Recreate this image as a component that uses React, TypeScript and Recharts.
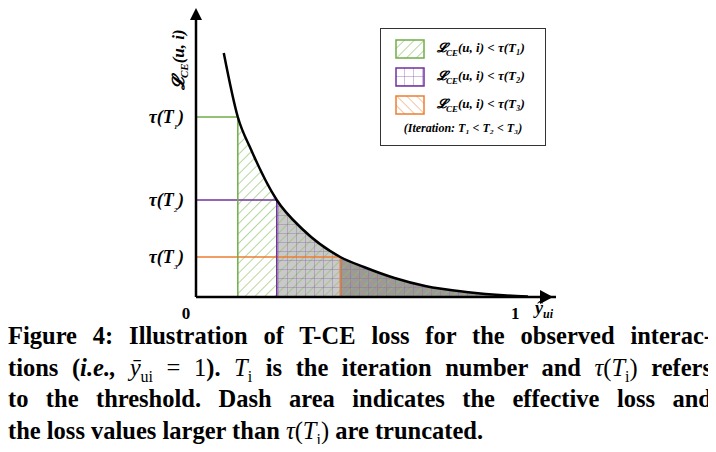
import React from "react";
import { ComposedChart, Line, Area, XAxis, YAxis, ReferenceLine } from "recharts";

const xs = [0.087, 0.131, 0.173, 0.253, 0.333, 0.452, 0.526, 0.622, 0.718, 0.846, 0.974, 1.04];
const loss = [244, 180, 147, 97, 68, 40, 30, 19, 11, 5, 1.5, 0.5];
const thresholdX = [0.131, 0.253, 0.452];
const thresholdY = [180, 97, 40];
const thresholdLabels = ["T₁", "T₂", "T₃"];
const thresholdColors = ["#70ad47", "#7030a0", "#ed7d31"];

const data = xs.map((x, i) => ({
  x,
  loss: loss[i],
  a1: x >= thresholdX[0] ? loss[i] : null,
  a2: x >= thresholdX[1] ? loss[i] : null,
  a3: x >= thresholdX[2] ? loss[i] : null,
}));

const serif = "'Liberation Serif', 'DejaVu Serif', serif";

const YTick = (p: any) => {
  const idx = thresholdY.indexOf(p.payload.value);
  return (
    <text x={p.x - 4} y={p.y + 6} textAnchor="end" fontFamily={serif} fontWeight="bold" fontStyle="italic" fontSize={18} fill="#000">
      τ({thresholdLabels[idx][0]}<tspan fontSize={12} dy={4}>{thresholdLabels[idx].slice(1)}</tspan><tspan dy={-4}>)</tspan>
    </text>
  );
};

const XTick = (p: any) => (
  <text x={p.x + (p.payload.value === 0 ? -10 : 0)} y={p.y + 14} textAnchor="middle" fontFamily={serif} fontWeight="bold" fontSize={17} fill="#000">
    {p.payload.value}
  </text>
);

const Sw = ({ id, stroke }: { id: string; stroke: string }) => (
  <svg width={30} height={20} style={{ verticalAlign: "middle" }}>
    <rect x={1} y={1} width={28} height={18} fill={`url(#${id})`} stroke={stroke} strokeWidth={1.5} />
  </svg>
);

const sub = (t: string) => <sub style={{ fontSize: 16 }}>{t}</sub>;
const N = ({ children }: { children: React.ReactNode }) => <span style={{ fontWeight: "normal" }}>{children}</span>;
const lineStyle: React.CSSProperties = { textAlign: "justify", textAlignLast: "justify", whiteSpace: "nowrap", height: 31.5 } as any;

export default function App() {
  return (
    <div style={{ position: "relative", width: 700, height: 436 }}>
      <svg width={0} height={0} style={{ position: "absolute" }}>
        <defs>
          <pattern id="hg" width="7" height="7" patternUnits="userSpaceOnUse" patternTransform="rotate(45)">
            <line x1="0" y1="0" x2="0" y2="7" stroke="#8cc26a" strokeWidth="1.3" />
          </pattern>
          <pattern id="hp" width="9" height="9" patternUnits="userSpaceOnUse">
            <path d="M0 0 H9 M0 0 V9" stroke="#8a5bb0" strokeWidth="0.8" fill="none" />
          </pattern>
          <pattern id="ho" width="7" height="7" patternUnits="userSpaceOnUse" patternTransform="rotate(-45)">
            <line x1="0" y1="0" x2="0" y2="7" stroke="#f0a070" strokeWidth="1.3" />
          </pattern>
        </defs>
      </svg>
      <ComposedChart width={700} height={320} data={data} margin={{ top: 7, right: 152, bottom: 1, left: 128 }}>
        <defs>
          <pattern id="cg" width="7" height="7" patternUnits="userSpaceOnUse" patternTransform="rotate(45)">
            <line x1="0" y1="0" x2="0" y2="7" stroke="#8cc26a" strokeWidth="1.3" />
          </pattern>
          <pattern id="cp" width="9" height="9" patternUnits="userSpaceOnUse">
            <path d="M0 0 H9 M0 0 V9" stroke="#8a6aa6" strokeWidth="0.8" fill="none" />
          </pattern>
          <pattern id="co" width="7" height="7" patternUnits="userSpaceOnUse" patternTransform="rotate(-45)">
            <line x1="0" y1="0" x2="0" y2="7" stroke="#c0906a" strokeWidth="1" />
          </pattern>
        </defs>
        <XAxis dataKey="x" type="number" domain={[0, 1.128]} ticks={[0, 1]} tick={<XTick />} tickLine={false} height={30}
          axisLine={{ stroke: "#000", strokeWidth: 2.5 }} />
        <YAxis type="number" domain={[0, 282]} ticks={thresholdY} tick={<YTick />} tickLine={false} width={60}
          axisLine={{ stroke: "#000", strokeWidth: 2.5 }} />
        <Area dataKey="a2" type="monotone" fill="#c9c9c9" fillOpacity={1} stroke="none" isAnimationActive={false} />
        <Area dataKey="a3" type="monotone" fill="#8f8f8f" fillOpacity={0.8} stroke="none" isAnimationActive={false} />
        <Area dataKey="a1" type="monotone" fill="url(#cg)" fillOpacity={1} stroke="none" isAnimationActive={false} />
        <Area dataKey="a2" type="monotone" fill="url(#cp)" fillOpacity={1} stroke="none" isAnimationActive={false} />
        <Area dataKey="a3" type="monotone" fill="url(#co)" fillOpacity={1} stroke="none" isAnimationActive={false} />
        {thresholdX.map((tx, i) => (
          <ReferenceLine key={"h" + i} segment={[{ x: 0, y: thresholdY[i] }, { x: tx, y: thresholdY[i] }]} stroke={thresholdColors[i]} strokeWidth={1.5} />
        ))}
        {thresholdX.map((tx, i) => (
          <ReferenceLine key={"v" + i} segment={[{ x: tx, y: 0 }, { x: tx, y: thresholdY[i] }]} stroke={thresholdColors[i]} strokeWidth={1.5} />
        ))}
        <Line dataKey="loss" type="monotone" stroke="#000" strokeWidth={2.5} dot={false} isAnimationActive={false} />
      </ComposedChart>
      <svg width={700} height={320} style={{ position: "absolute", left: 0, top: 0, pointerEvents: "none" }}>
        <path d="M182 12 L188 0 L194 12 Z" fill="#000" />
        <path d="M532 282 L545 289 L532 296 Z" fill="#000" />
        <text x={0} y={0} transform="translate(176,82) rotate(-90)" fontFamily={serif} fontWeight="bold" fontStyle="italic" fontSize={17}>
          𝓛<tspan fontSize={11} dy={4}>CE</tspan><tspan dy={-4}>(u, i)</tspan>
        </text>
        <text x={527} y={306} fontFamily={serif} fontWeight="bold" fontStyle="italic" fontSize={18}>
          ŷ<tspan fontSize={12} dy={4}>ui</tspan>
        </text>
      </svg>
      <div style={{ position: "absolute", left: 372, top: 20, width: 166, height: 118, border: "1.5px solid #333", background: "#fff",
        fontFamily: serif, fontWeight: "bold", fontStyle: "italic", fontSize: 13, padding: "6px 4px", boxSizing: "border-box" }}>
        {[["hg", "#70ad47", "T₁"], ["hp", "#7030a0", "T₂"], ["ho", "#ed7d31", "T₃"]].map(([id, c, t]) => (
          <div key={id} style={{ height: 28, display: "flex", alignItems: "center", gap: 12, paddingLeft: 10 }}>
            <Sw id={id} stroke={c} /> <span>𝓛<sub style={{ fontSize: 9 }}>CE</sub>(u, i) &lt; τ({t})</span>
          </div>
        ))}
        <div style={{ textAlign: "center", fontSize: 12, marginTop: 2 }}>(Iteration: T₁ &lt; T₂ &lt; T₃)</div>
      </div>
      <div style={{ position: "absolute", left: 0, top: 312, width: 704, fontFamily: serif, fontWeight: "bold", fontSize: 24.5, lineHeight: "31.5px" }}>
        <div style={lineStyle}>Figure 4: Illustration of T-CE loss for the observed interac-</div>
        <div style={lineStyle}>tions (<i>i.e.,</i> <N><i>ȳ</i>{sub("ui")} = 1</N>). <N><i>T</i>{sub("i")}</N> is the iteration number and <N><i>τ</i>(<i>T</i>{sub("i")})</N> refers</div>
        <div style={lineStyle}>to the threshold. Dash area indicates the effective loss and</div>
        <div style={{ ...lineStyle, textAlignLast: "left" } as any}>the loss values larger than <N><i>τ</i>(<i>T</i>{sub("i")})</N> are truncated.</div>
      </div>
    </div>
  );
}
